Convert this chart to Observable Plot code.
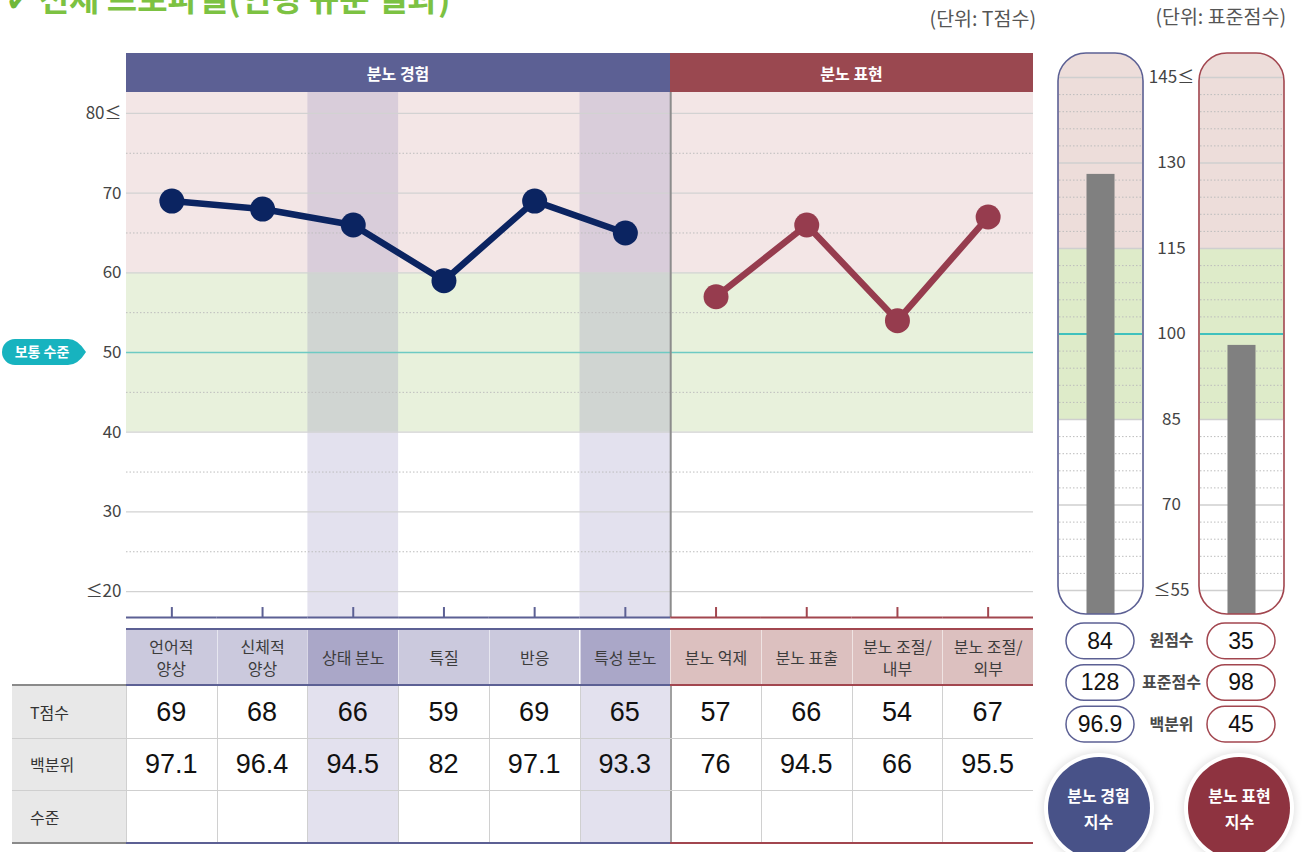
<!DOCTYPE html>
<html><head><meta charset="utf-8">
<script src="https://cdn.jsdelivr.net/npm/d3@7"></script>
<script src="https://cdn.jsdelivr.net/npm/@observablehq/plot@0.6"></script>
<style>
body{margin:0;background:#fff;}
#root{position:relative;width:1302px;height:852px;overflow:hidden;font-family:"Noto Sans CJK KR","Noto Sans",sans-serif;}
.abs{position:absolute;box-sizing:border-box;}
.num{font-family:"Liberation Sans",Arial,sans-serif;}
</style></head><body><div id="root"></div>
<script>
// ---------- data ----------
const categories = ["언어적 양상","신체적 양상","상태 분노","특질","반응","특성 분노","분노 억제","분노 표출","분노 조절/내부","분노 조절/외부"];
const headerLabels = ["언어적<br>양상","신체적<br>양상","상태 분노","특질","반응","특성 분노","분노 억제","분노 표출","분노 조절/<br>내부","분노 조절/<br>외부"];
const groupNames = ["분노 경험","분노 표현"];
const categoryGroup = ["분노 경험","분노 경험","분노 경험","분노 경험","분노 경험","분노 경험","분노 표현","분노 표현","분노 표현","분노 표현"];
const tScores = [69,68,66,59,69,65,57,66,54,67];
const percentiles = ["97.1","96.4","94.5","82","97.1","93.3","76","94.5","66","95.5"];
const highlighted = ["상태 분노","특성 분노"];
const rowLabels = ["T점수","백분위","수준"];
const yTicks = [20,30,40,50,60,70,80];
const yTickLabels = ["≤20","30","40","50","60","70","80≤"];
const dottedTicks = [25,35,45,55,65,75];
const normalLevel = 50;

const indexNames = ["분노 경험","분노 표현"];
const indexTitles = ["분노 경험<br>지수","분노 표현<br>지수"];
const statNames = ["원점수","표준점수","백분위"];
const rawScores = ["84","35"];
const stdScores = [128,98];
const indexPercentiles = ["96.9","45"];
const gaugeTicks = [55,70,85,100,115,130,145];
const gaugeTickLabels = ["≤55","70","85","100","115","130","145≤"];

// ---------- helpers ----------
const root = document.getElementById("root");
function div(style, html){const d=document.createElement("div");d.className="abs";Object.assign(d.style,style);if(html!=null)d.innerHTML=html;root.appendChild(d);return d;}
const FONT = '"Noto Sans CJK KR","Noto Sans",sans-serif';
const lineColor = {"분노 경험":"#0b2461","분노 표현":"#963c4e"};
const edgeColor = {"분노 경험":"#5c6094","분노 표현":"#a2464f"};
const headColor = {"분노 경험":"#5c6094","분노 표현":"#9a4850"};

// ---------- title ----------
div({left:"6px",top:"-19px",fontSize:"33px",lineHeight:"33px",fontWeight:"700",color:"#7cc242",whiteSpace:"nowrap"},
  '<span style="font-family:DejaVu Sans;font-size:30px;color:#6fb83a">✔</span> 전체 프로파일(연령 규준 결과)');
div({left:"860px",top:"4px",width:"176px",textAlign:"right",fontSize:"19.5px",lineHeight:"28px",color:"#555"},"(단위: T점수)");
div({left:"1090px",top:"2px",width:"196px",textAlign:"right",fontSize:"19.5px",lineHeight:"28px",color:"#555"},"(단위: 표준점수)");

// ---------- main chart ----------
const rows = categories.map((c,i)=>({cat:c, group:categoryGroup[i], t:tScores[i]}));
const yMin = 16.75, yMax = 82.625;
const CHART_TOP = 92;
const groupMarks = groupNames.flatMap(g=>{
  const sub = rows.filter(r=>r.group===g);
  return [
    Plot.tickY(sub,{x:"cat",y:()=>yMin,stroke:edgeColor[g],strokeWidth:2}),
    Plot.ruleX(sub,{x:"cat",y1:()=>yMin,y2:()=>yMin+1.25,stroke:edgeColor[g],strokeWidth:2}),
    Plot.line(sub,{x:"cat",y:"t",stroke:lineColor[g],strokeWidth:6.5}),
    Plot.dot(sub,{x:"cat",y:"t",r:12.5,fill:lineColor[g]})
  ];
});
const main = Plot.plot({
  width:1040,height:528,marginLeft:126,marginRight:7,marginTop:0,marginBottom:3,
  x:{type:"band",domain:categories,padding:0,round:false,axis:null},
  y:{domain:[yMin,yMax],axis:null},
  style:{fontFamily:FONT,fontSize:"16px",overflow:"visible",background:"transparent"},
  marks:[
    Plot.rect([0],{y1:()=>60,y2:()=>yMax,fill:"#f3e6e6"}),
    Plot.rect([0],{y1:()=>40,y2:()=>60,fill:"#e8f1dc"}),
    Plot.barY(highlighted,{x:d=>d,y1:()=>yMin,y2:()=>yMax,fill:"rgb(115,105,170)",fillOpacity:0.2}),
    Plot.ruleY(yTicks.filter(v=>v!==normalLevel),{y:d=>d,stroke:"#d2d2d2",strokeWidth:1.3}),
    Plot.ruleY(dottedTicks,{y:d=>d,stroke:"#bdbdbd",strokeDasharray:"1.5,2"}),
    Plot.ruleY([normalLevel],{y:d=>d,stroke:"#6dcac3",strokeWidth:1.5}),
    Plot.ruleX([categories[6]],{x:d=>d,y1:()=>yMin,y2:()=>yMax,dx:-45.35,stroke:"#8c8c8c",strokeWidth:2}),
    ...groupMarks,
    Plot.text(yTicks,{y:d=>d,text:(d,i)=>yTickLabels[i],frameAnchor:"left",textAnchor:"end",dx:-5,fill:"#444",fontSize:17})
  ]
});
const mainWrap = div({left:"0px",top:CHART_TOP+"px"});
mainWrap.appendChild(main);

const xs = main.scale("x");
const ys = main.scale("y");
const bw = xs.bandwidth;

// header bars
groupNames.forEach(g=>{
  const cats = categories.filter((c,i)=>categoryGroup[i]===g);
  const x0 = xs.apply(cats[0]), x1 = xs.apply(cats[cats.length-1])+bw;
  div({left:x0+"px",top:"53px",width:(x1-x0)+"px",height:"39px",background:headColor[g],color:"#fff",fontWeight:"700",
       fontSize:"16px",display:"flex",alignItems:"center",justifyContent:"center"},g);
});

// 보통 수준 badge
const by = CHART_TOP + ys.apply(normalLevel);
div({left:"2px",top:(by-13)+"px",width:"84px",height:"26px"},
 '<svg width="84" height="26"><path d="M13,0 H66 Q76,0 84,13 Q76,26 66,26 H13 A13,13 0 0 1 13,0 Z" fill="#17b3bf"/>'+
 '<text x="40" y="18" text-anchor="middle" fill="#fff" font-weight="700" font-size="14" font-family=\'Noto Sans CJK KR\'>보통 수준</text></svg>');

// ---------- table ----------
const TBL_L = 12, HEAD_T = 630, HEAD_B = 684, ROW_T = [686,738,790], ROW_B = 843;
const xEnd = xs.apply(categories[categories.length-1])+bw;
const xStart = xs.apply(categories[0]);
groupNames.forEach(g=>{
  const cats = categories.filter((c,i)=>categoryGroup[i]===g);
  const x0 = xs.apply(cats[0]), x1 = xs.apply(cats[cats.length-1])+bw;
  div({left:x0+"px",top:(HEAD_T-2)+"px",width:(x1-x0)+"px",height:"2px",background:edgeColor[g]});
  div({left:x0+"px",top:HEAD_B+"px",width:(x1-x0)+"px",height:"2px",background:edgeColor[g]});
  div({left:x0+"px",top:(ROW_B-1)+"px",width:(x1-x0)+"px",height:"2px",background:edgeColor[g]});
});
categories.forEach((c,i)=>{
  const g = categoryGroup[i], hl = highlighted.includes(c);
  const x = xs.apply(c);
  const bg = g==="분노 표현" ? "#dcc0bf" : (hl ? "#aaa7c8" : "#cbc9dd");
  div({left:x+"px",top:HEAD_T+"px",width:bw+"px",height:(HEAD_B-HEAD_T)+"px",background:bg,
       borderLeft: i? "1px solid rgba(255,255,255,0.55)":"none",
       display:"flex",alignItems:"center",justifyContent:"center",textAlign:"center",
       fontSize:"16px",lineHeight:"22px",color:"#3c3c3c"},headerLabels[i]);
  div({left:x+"px",top:ROW_T[0]+"px",width:bw+"px",height:(ROW_B-1-ROW_T[0])+"px",background: hl?"#e3e1ee":"#fff",
       borderLeft: i===6 ? "2px solid #a0a0a0" : "1px solid #d0d0d0"});
  div({left:x+"px",top:ROW_T[0]+"px",width:bw+"px",height:(ROW_T[1]-ROW_T[0])+"px",display:"flex",alignItems:"center",justifyContent:"center",
       fontSize:"27px",color:"#111"},'<span class="num">'+tScores[i]+'</span>');
  div({left:x+"px",top:ROW_T[1]+"px",width:bw+"px",height:(ROW_T[2]-ROW_T[1])+"px",display:"flex",alignItems:"center",justifyContent:"center",
       fontSize:"27px",color:"#111"},'<span class="num">'+percentiles[i]+'</span>');
});
div({left:TBL_L+"px",top:ROW_T[0]+"px",width:(xStart-TBL_L)+"px",height:(ROW_B-ROW_T[0])+"px",background:"#e8e8e8"});
div({left:TBL_L+"px",top:HEAD_B+"px",width:(xStart-TBL_L)+"px",height:"2px",background:"#8a8a8a"});
div({left:TBL_L+"px",top:(ROW_B-1)+"px",width:(xStart-TBL_L)+"px",height:"2px",background:"#8a8a8a"});
rowLabels.forEach((r,k)=>{
  const t0 = ROW_T[k], t1 = k<2 ? ROW_T[k+1] : ROW_B;
  div({left:(TBL_L+18)+"px",top:t0+"px",height:(t1-t0)+"px",display:"flex",alignItems:"center",fontSize:"16px",color:"#333"},r);
  if(k>0) div({left:TBL_L+"px",top:t0+"px",width:(xEnd-TBL_L)+"px",height:"1px",background:"#cfcfcf"});
});

// ---------- gauge ----------
const gMin = 50.79, gMax = 149.21;
const GAUGE_L = 1050, GAUGE_T = 50;
const majorLines = gaugeTicks.filter(v=>v!==100);
const minorLines = d3.range(55,146,3).filter(v=>(v-55)%15!==0);
const cross = (arr)=>indexNames.flatMap(n=>arr.map(v=>({name:n,v})));
const idx = indexNames.map((n,i)=>({name:n,std:stdScores[i]}));
const gauge = Plot.plot({
  width:245,height:567,marginLeft:8,marginRight:11,marginTop:3,marginBottom:3,
  x:{type:"band",domain:indexNames,paddingInner:0.397,paddingOuter:0,round:false,axis:null},
  y:{domain:[gMin,gMax],axis:null},
  style:{fontFamily:FONT,fontSize:"16px",overflow:"visible",background:"transparent"},
  marks:[
    Plot.barY(indexNames,{x:d=>d,y1:()=>gMin,y2:()=>gMax,fill:"#fff",rx:28}),
    Plot.barY(indexNames,{x:d=>d,y1:()=>85,y2:()=>gMax,fill:"#edddda",rx:28}),
    Plot.barY(indexNames,{x:d=>d,y1:()=>85,y2:()=>115,fill:"#deebc9"}),
    Plot.tickY(cross(minorLines),{x:"name",y:"v",stroke:"#bcbcbc",strokeDasharray:"1.5,2",insetLeft:1,insetRight:1}),
    Plot.tickY(cross(majorLines),{x:"name",y:"v",stroke:"#cfcfcf",strokeWidth:1.5,insetLeft:1,insetRight:1}),
    Plot.tickY(cross([100]),{x:"name",y:"v",stroke:"#3fc1bd",strokeWidth:2.2,insetLeft:1,insetRight:1}),
    Plot.barY(idx,{x:"name",y1:()=>gMin,y2:"std",fill:"#808080",insetLeft:28.5,insetRight:28.5}),
    ...indexNames.map(n=>Plot.barY([n],{x:d=>d,y1:()=>gMin,y2:()=>gMax,fill:"none",stroke:edgeColor[n],strokeWidth:1.6,rx:28})),
    Plot.text(gaugeTicks,{x:()=>indexNames[0],y:d=>d,text:(d,i)=>gaugeTickLabels[i],dx:70.5,fill:"#444",fontSize:17})
  ]
});
div({left:GAUGE_L+"px",top:GAUGE_T+"px"}).appendChild(gauge);

// pills
const statValues = {"원점수":rawScores,"표준점수":stdScores.map(String),"백분위":indexPercentiles};
const pillData = indexNames.flatMap((n,i)=>statNames.map(s=>({name:n,stat:s,val:statValues[s][i]})));
const pills = Plot.plot({
  width:245,height:125,marginLeft:8,marginRight:11,marginTop:0,marginBottom:0,
  x:{type:"band",domain:indexNames,paddingInner:0.397,paddingOuter:0,round:false,axis:null},
  y:{type:"band",domain:statNames,padding:0,round:false,axis:null},
  style:{fontFamily:FONT,fontSize:"16px",overflow:"visible",background:"transparent"},
  marks:[
    ...indexNames.map(n=>Plot.cell(pillData.filter(d=>d.name===n),{x:"name",y:"stat",fill:"#fff",stroke:edgeColor[n],strokeWidth:1.5,rx:18,insetLeft:8,insetRight:9,insetTop:3,insetBottom:3})),
    Plot.text(pillData,{x:"name",y:"stat",text:"val",fill:"#111",fontSize:23,fontFamily:"Liberation Sans, Arial, sans-serif",dx:-1}),
    Plot.text(statNames,{x:()=>indexNames[0],y:d=>d,text:d=>d,dx:70.5,fill:"#4a4a4a",fontSize:16,fontWeight:"700"})
  ]
});
div({left:GAUGE_L+"px",top:"620px"}).appendChild(pills);

// index circles
const gx = gauge.scale("x");
const circleFill = {"분노 경험":"#485288","분노 표현":"#8e3340"};
indexNames.forEach((n,i)=>{
  const cx = GAUGE_L + gx.apply(n) + gx.bandwidth/2 - 2;
  div({left:(cx-51)+"px",top:(808-51)+"px",width:"102px",height:"102px",borderRadius:"50%",background:circleFill[n],
       boxShadow:"0 0 0 4px #fff, 0 0 8px 5px rgba(0,0,0,0.13)",display:"flex",alignItems:"center",justifyContent:"center",
       textAlign:"center",color:"#fff",fontWeight:"700",fontSize:"16px",lineHeight:"26px"},indexTitles[i]);
});
</script></body></html>
